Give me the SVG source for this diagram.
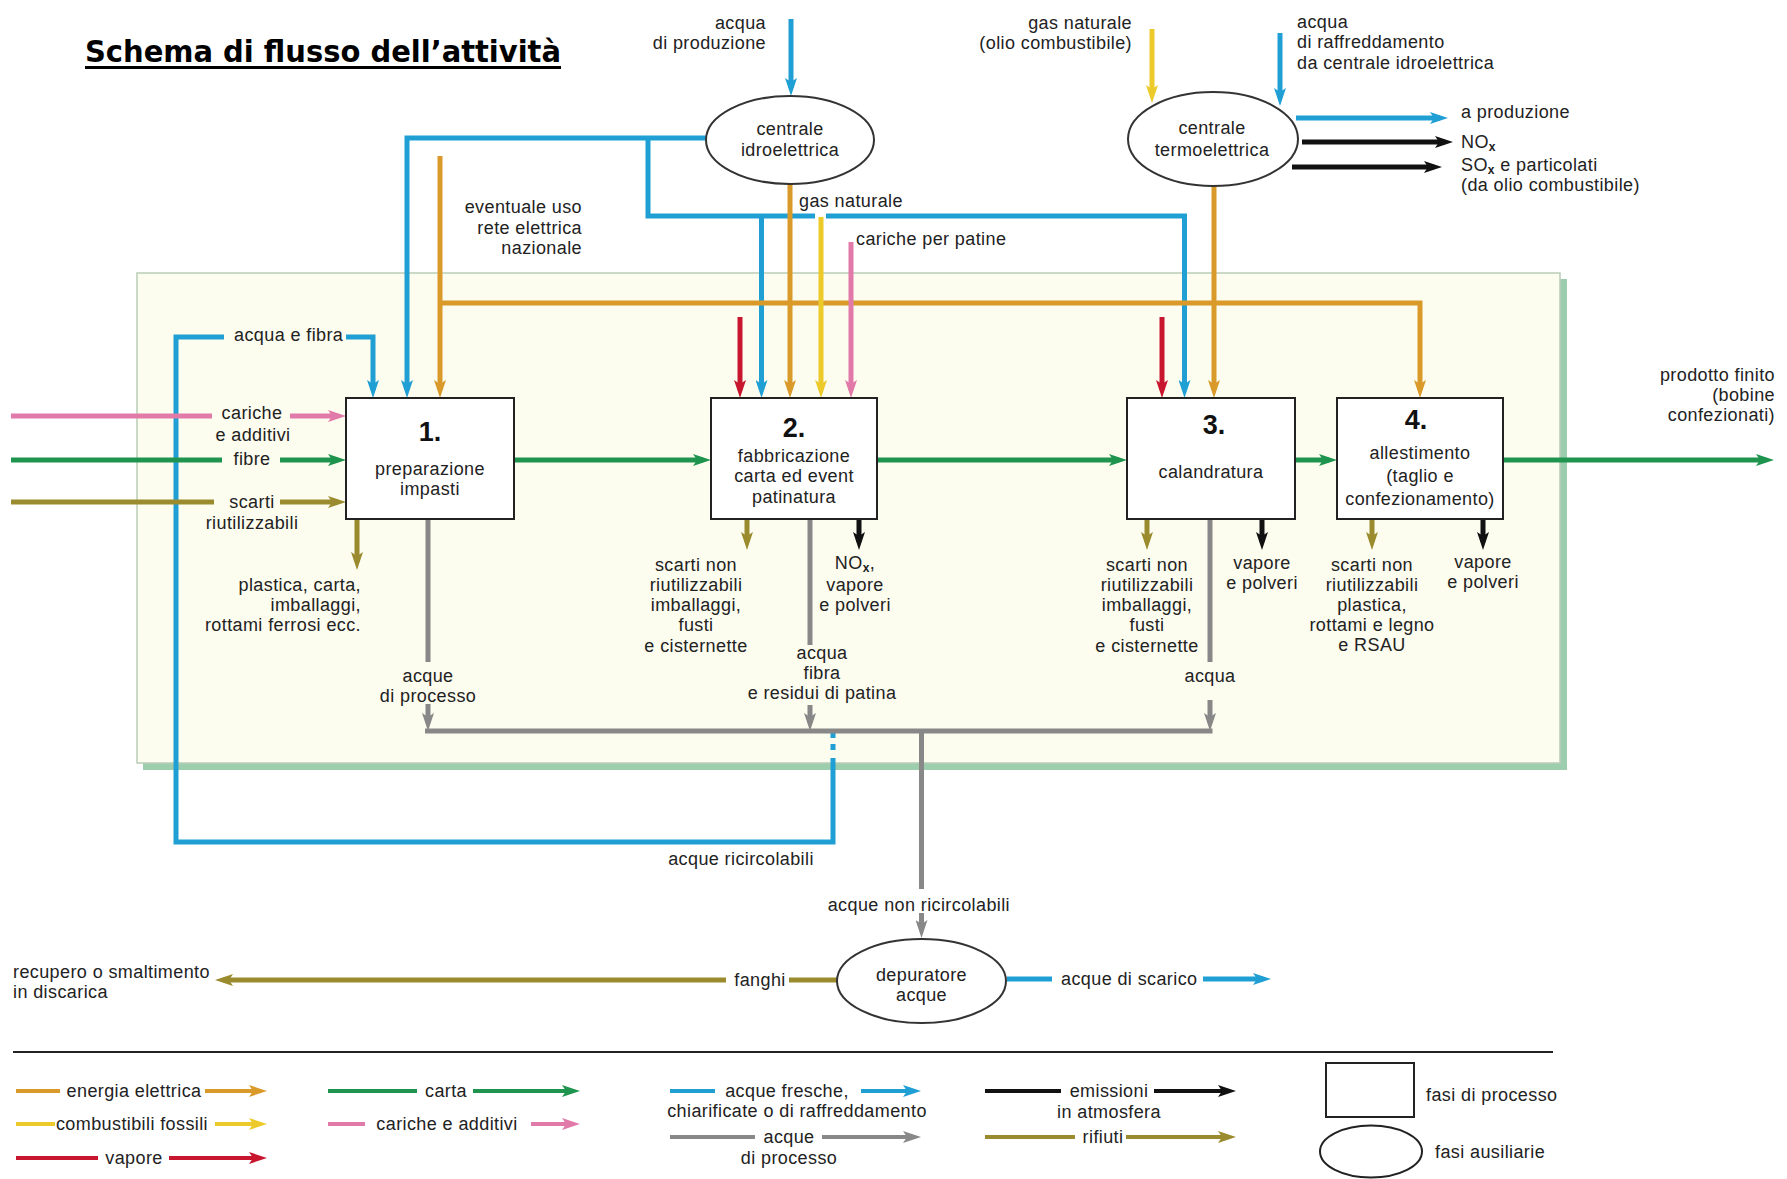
<svg xmlns="http://www.w3.org/2000/svg" width="1787" height="1179" viewBox="0 0 1787 1179">
<style>
text{font-family:"Liberation Sans",Arial,sans-serif;font-size:18px;fill:#222;letter-spacing:0.4px}
.m{text-anchor:middle}.e{text-anchor:end}
.num{font-size:27px;font-weight:bold;fill:#111;letter-spacing:0}
.sub{font-size:12px;font-weight:bold}
.ln{fill:none;stroke-width:5}
.lg{fill:none;stroke-width:4}
.or{stroke:#d99a2a}.ye{stroke:#ecca2a}.re{stroke:#c8162f}.gr{stroke:#1f944f}.pk{stroke:#e27aa9}
.bl{stroke:#1f9fd3}.gy{stroke:#888}.bk{stroke:#111}.ol{stroke:#9b8b2f}
.box{fill:#fff;stroke:#222;stroke-width:2}
.ell{fill:#fff;stroke:#333;stroke-width:2}
</style>
<defs>
<marker id="a-or" viewBox="0 0 18 12" markerWidth="18" markerHeight="12" refX="10" refY="6" orient="auto" markerUnits="userSpaceOnUse"><path d="M0,0 L18,6 L0,12 L4,6 z" fill="#d99a2a"/></marker>
<marker id="a-ye" viewBox="0 0 18 12" markerWidth="18" markerHeight="12" refX="10" refY="6" orient="auto" markerUnits="userSpaceOnUse"><path d="M0,0 L18,6 L0,12 L4,6 z" fill="#ecca2a"/></marker>
<marker id="a-re" viewBox="0 0 18 12" markerWidth="18" markerHeight="12" refX="10" refY="6" orient="auto" markerUnits="userSpaceOnUse"><path d="M0,0 L18,6 L0,12 L4,6 z" fill="#c8162f"/></marker>
<marker id="a-gr" viewBox="0 0 18 12" markerWidth="18" markerHeight="12" refX="10" refY="6" orient="auto" markerUnits="userSpaceOnUse"><path d="M0,0 L18,6 L0,12 L4,6 z" fill="#1f944f"/></marker>
<marker id="a-pk" viewBox="0 0 18 12" markerWidth="18" markerHeight="12" refX="10" refY="6" orient="auto" markerUnits="userSpaceOnUse"><path d="M0,0 L18,6 L0,12 L4,6 z" fill="#e27aa9"/></marker>
<marker id="a-bl" viewBox="0 0 18 12" markerWidth="18" markerHeight="12" refX="10" refY="6" orient="auto" markerUnits="userSpaceOnUse"><path d="M0,0 L18,6 L0,12 L4,6 z" fill="#1f9fd3"/></marker>
<marker id="a-gy" viewBox="0 0 18 12" markerWidth="18" markerHeight="12" refX="10" refY="6" orient="auto" markerUnits="userSpaceOnUse"><path d="M0,0 L18,6 L0,12 L4,6 z" fill="#888"/></marker>
<marker id="a-bk" viewBox="0 0 18 12" markerWidth="18" markerHeight="12" refX="10" refY="6" orient="auto" markerUnits="userSpaceOnUse"><path d="M0,0 L18,6 L0,12 L4,6 z" fill="#111"/></marker>
<marker id="a-ol" viewBox="0 0 18 12" markerWidth="18" markerHeight="12" refX="10" refY="6" orient="auto" markerUnits="userSpaceOnUse"><path d="M0,0 L18,6 L0,12 L4,6 z" fill="#9b8b2f"/></marker>
</defs>
<rect width="1787" height="1179" fill="#fff"/>

<g id="title">
<text x="85" y="62" textLength="476" lengthAdjust="spacingAndGlyphs" style="font-family:'DejaVu Sans',Verdana,sans-serif;font-size:30px;font-weight:bold;fill:#000;letter-spacing:0">Schema di flusso dell’attività</text>
<line x1="85" y1="67.5" x2="561" y2="67.5" stroke="#000" stroke-width="3"/>
</g>

<g id="panel">
<rect x="143" y="279" width="1424" height="491" fill="#9ccdad"/>
<rect x="137" y="273" width="1423" height="490" fill="#fcfcef" stroke="#b9cdb9" stroke-width="1.5"/>
</g>

<g id="connectors">
<path class="ln bl" d="M791,19 V88" marker-end="url(#a-bl)"/>
<path class="ln bl" d="M706,138 H407 V390" marker-end="url(#a-bl)"/>
<path class="ln bl" d="M648,138 V216 H815"/>
<path class="ln bl" d="M826,216 H1184.5 V390" marker-end="url(#a-bl)"/>
<path class="ln bl" d="M761.5,216 V390" marker-end="url(#a-bl)"/>
<path class="ln bl" d="M833,732 V756" stroke-dasharray="6 6"/>
<path class="ln bl" d="M833,758 V842 H176 V337 H224"/>
<path class="ln bl" d="M346,337 H373 V390" marker-end="url(#a-bl)"/>
<path class="ln bl" d="M1280,33 V98" marker-end="url(#a-bl)"/>
<path class="ln bl" d="M1296,118 H1440" marker-end="url(#a-bl)"/>
<path class="ln bl" d="M1007,979 H1052"/>
<path class="ln bl" d="M1203,979 H1263" marker-end="url(#a-bl)"/>
<path class="ln or" d="M440,156 V390" marker-end="url(#a-or)"/>
<path class="ln or" d="M440,303 H1420 V390" marker-end="url(#a-or)"/>
<path class="ln or" d="M790,184 V390" marker-end="url(#a-or)"/>
<path class="ln or" d="M1214,186 V390" marker-end="url(#a-or)"/>
<path class="ln ye" d="M1152,29 V95" marker-end="url(#a-ye)"/>
<path class="ln ye" d="M821,217 V390" marker-end="url(#a-ye)"/>
<path class="ln pk" d="M851,242 V390" marker-end="url(#a-pk)"/>
<path class="ln pk" d="M11,416 H212"/>
<path class="ln pk" d="M290,416 H338" marker-end="url(#a-pk)"/>
<path class="ln re" d="M740,317 V390" marker-end="url(#a-re)"/>
<path class="ln re" d="M1162,317 V390" marker-end="url(#a-re)"/>
<path class="ln gr" d="M11,460 H222"/>
<path class="ln gr" d="M280,460 H338" marker-end="url(#a-gr)"/>
<path class="ln gr" d="M514,460 H703" marker-end="url(#a-gr)"/>
<path class="ln gr" d="M877,460 H1119" marker-end="url(#a-gr)"/>
<path class="ln gr" d="M1295,460 H1329" marker-end="url(#a-gr)"/>
<path class="ln gr" d="M1503,460 H1766" marker-end="url(#a-gr)"/>
<path class="ln ol" d="M11,502 H214"/>
<path class="ln ol" d="M280,502 H338" marker-end="url(#a-ol)"/>
<path class="ln ol" d="M357,519 V562" marker-end="url(#a-ol)"/>
<path class="ln ol" d="M747,519 V542" marker-end="url(#a-ol)"/>
<path class="ln ol" d="M1147,519 V542" marker-end="url(#a-ol)"/>
<path class="ln ol" d="M1372,519 V542" marker-end="url(#a-ol)"/>
<path class="ln ol" d="M837,980 H789"/>
<path class="ln ol" d="M726,980 H223" marker-end="url(#a-ol)"/>
<path class="ln bk" d="M1302,142 H1445" marker-end="url(#a-bk)"/>
<path class="ln bk" d="M1292,167 H1434" marker-end="url(#a-bk)"/>
<path class="ln bk" d="M859,519 V542" marker-end="url(#a-bk)"/>
<path class="ln bk" d="M1262,519 V542" marker-end="url(#a-bk)"/>
<path class="ln bk" d="M1483,519 V542" marker-end="url(#a-bk)"/>
<path class="ln gy" d="M428,519 V662"/>
<path class="ln gy" d="M428,704 V723" marker-end="url(#a-gy)"/>
<path class="ln gy" d="M810,519 V645"/>
<path class="ln gy" d="M810,705 V723" marker-end="url(#a-gy)"/>
<path class="ln gy" d="M1210,519 V662"/>
<path class="ln gy" d="M1210,700 V723" marker-end="url(#a-gy)"/>
<path class="ln gy" d="M425,731 H1212.5"/>
<path class="ln gy" d="M921.5,731 V889"/>
<path class="ln gy" d="M921.5,913 V930" marker-end="url(#a-gy)"/>
</g>

<g id="centrale-idroelettrica">
<ellipse class="ell" cx="790" cy="140" rx="84" ry="44"/>
<text class="m" x="790" y="135">centrale</text>
<text class="m" x="790" y="156">idroelettrica</text>
</g>
<g id="centrale-termoelettrica">
<ellipse class="ell" cx="1213" cy="139" rx="85" ry="47"/>
<text class="m" x="1212" y="134">centrale</text>
<text class="m" x="1212" y="156">termoelettrica</text>
</g>
<g id="fase-1">
<rect class="box" x="346" y="398" width="168" height="121"/>
<text class="m num" x="430" y="441">1.</text>
<text class="m" x="430" y="475">preparazione</text>
<text class="m" x="430" y="495">impasti</text>
</g>
<g id="fase-2">
<rect class="box" x="711" y="398" width="166" height="121"/>
<text class="m num" x="794" y="437">2.</text>
<text class="m" x="794" y="462">fabbricazione</text>
<text class="m" x="794" y="482">carta ed event</text>
<text class="m" x="794" y="503">patinatura</text>
</g>
<g id="fase-3">
<rect class="box" x="1127" y="398" width="168" height="121"/>
<text class="m num" x="1214" y="434">3.</text>
<text class="m" x="1211" y="478">calandratura</text>
</g>
<g id="fase-4">
<rect class="box" x="1337" y="398" width="166" height="121"/>
<text class="m num" x="1416" y="429">4.</text>
<text class="m" x="1420" y="459">allestimento</text>
<text class="m" x="1420" y="482">(taglio e</text>
<text class="m" x="1420" y="505">confezionamento)</text>
</g>
<g id="depuratore-acque">
<ellipse class="ell" cx="921.5" cy="981" rx="84.5" ry="42"/>
<text class="m" x="921.5" y="981">depuratore</text>
<text class="m" x="921.5" y="1001">acque</text>
</g>

<g id="labels">
<text class="e" x="766" y="29">acqua</text>
<text class="e" x="766" y="49">di produzione</text>
<text class="e" x="1132" y="29">gas naturale</text>
<text class="e" x="1132" y="49">(olio combustibile)</text>
<text x="1297" y="28">acqua</text>
<text x="1297" y="48">di raffreddamento</text>
<text x="1297" y="69">da centrale idroelettrica</text>
<text x="1461" y="118">a produzione</text>
<text x="1461" y="148">NO<tspan class="sub" dy="3">x</tspan></text>
<text x="1461" y="171">SO<tspan class="sub" dy="3">x</tspan><tspan dy="-3"> e particolati</tspan></text>
<text x="1461" y="191">(da olio combustibile)</text>
<text class="e" x="582" y="213">eventuale uso</text>
<text class="e" x="582" y="234">rete elettrica</text>
<text class="e" x="582" y="254">nazionale</text>
<text x="799" y="207">gas naturale</text>
<text x="856" y="245">cariche per patine</text>
<text x="234" y="341">acqua e fibra</text>
<text class="m" x="252" y="419">cariche</text>
<text class="m" x="253" y="441">e additivi</text>
<text class="m" x="252" y="465">fibre</text>
<text class="m" x="252" y="508">scarti</text>
<text class="m" x="252" y="529">riutilizzabili</text>
<text class="e" x="361" y="591">plastica, carta,</text>
<text class="e" x="361" y="611">imballaggi,</text>
<text class="e" x="361" y="631">rottami ferrosi ecc.</text>
<text class="m" x="428" y="682">acque</text>
<text class="m" x="428" y="702">di processo</text>
<text class="m" x="696" y="571">scarti non</text>
<text class="m" x="696" y="591">riutilizzabili</text>
<text class="m" x="696" y="611">imballaggi,</text>
<text class="m" x="696" y="631">fusti</text>
<text class="m" x="696" y="652">e cisternette</text>
<text class="m" x="855" y="569">NO<tspan class="sub" dy="3">x</tspan><tspan dy="-3">,</tspan></text>
<text class="m" x="855" y="591">vapore</text>
<text class="m" x="855" y="611">e polveri</text>
<text class="m" x="822" y="659">acqua</text>
<text class="m" x="822" y="679">fibra</text>
<text class="m" x="822" y="699">e residui di patina</text>
<text class="m" x="1147" y="571">scarti non</text>
<text class="m" x="1147" y="591">riutilizzabili</text>
<text class="m" x="1147" y="611">imballaggi,</text>
<text class="m" x="1147" y="631">fusti</text>
<text class="m" x="1147" y="652">e cisternette</text>
<text class="m" x="1262" y="569">vapore</text>
<text class="m" x="1262" y="589">e polveri</text>
<text class="m" x="1210" y="682">acqua</text>
<text class="m" x="1372" y="571">scarti non</text>
<text class="m" x="1372" y="591">riutilizzabili</text>
<text class="m" x="1372" y="611">plastica,</text>
<text class="m" x="1372" y="631">rottami e legno</text>
<text class="m" x="1372" y="651">e RSAU</text>
<text class="m" x="1483" y="568">vapore</text>
<text class="m" x="1483" y="588">e polveri</text>
<text class="e" x="1775" y="381">prodotto finito</text>
<text class="e" x="1775" y="401">(bobine</text>
<text class="e" x="1775" y="421">confezionati)</text>
<text class="m" x="741" y="865">acque ricircolabili</text>
<text class="e" x="1010" y="911">acque non ricircolabili</text>
<text x="13" y="978">recupero o smaltimento</text>
<text x="13" y="998">in discarica</text>
<text class="m" x="760" y="986">fanghi</text>
<text x="1061" y="985">acque di scarico</text>
</g>

<g id="legend">
<line x1="13" y1="1052" x2="1553" y2="1052" stroke="#222" stroke-width="2"/>
<path class="lg or" d="M16,1091 H60"/><text class="m" x="134" y="1097">energia elettrica</text><path class="lg or" d="M205,1091 H259" marker-end="url(#a-or)"/>
<path class="lg ye" d="M16,1124 H55"/><text class="m" x="132" y="1130">combustibili fossili</text><path class="lg ye" d="M215,1124 H259" marker-end="url(#a-ye)"/>
<path class="lg re" d="M16,1158 H98"/><text class="m" x="134" y="1164">vapore</text><path class="lg re" d="M169,1158 H259" marker-end="url(#a-re)"/>
<path class="lg gr" d="M328,1091 H417"/><text class="m" x="446" y="1097">carta</text><path class="lg gr" d="M473,1091 H572" marker-end="url(#a-gr)"/>
<path class="lg pk" d="M328,1124 H365"/><text class="m" x="447" y="1130">cariche e additivi</text><path class="lg pk" d="M531,1124 H572" marker-end="url(#a-pk)"/>
<path class="lg bl" d="M670,1091 H715"/><text class="m" x="787" y="1097">acque fresche,</text><path class="lg bl" d="M861,1091 H913" marker-end="url(#a-bl)"/>
<text class="m" x="797" y="1117">chiarificate o di raffreddamento</text>
<path class="lg gy" d="M670,1137 H755"/><text class="m" x="789" y="1143">acque</text><path class="lg gy" d="M822,1137 H913" marker-end="url(#a-gy)"/>
<text class="m" x="789" y="1164">di processo</text>
<path class="lg bk" d="M985,1091 H1061"/><text class="m" x="1109" y="1097">emissioni</text><path class="lg bk" d="M1154,1091 H1228" marker-end="url(#a-bk)"/>
<text class="m" x="1109" y="1118">in atmosfera</text>
<path class="lg ol" d="M985,1137 H1075"/><text class="m" x="1103" y="1143">rifiuti</text><path class="lg ol" d="M1126,1137 H1228" marker-end="url(#a-ol)"/>
<rect x="1326" y="1063" width="88" height="54" fill="#fff" stroke="#222" stroke-width="2"/>
<text x="1426" y="1101">fasi di processo</text>
<ellipse cx="1371" cy="1151.5" rx="51" ry="26" fill="#fff" stroke="#222" stroke-width="2"/>
<text x="1435" y="1158">fasi ausiliarie</text>
</g>
</svg>
